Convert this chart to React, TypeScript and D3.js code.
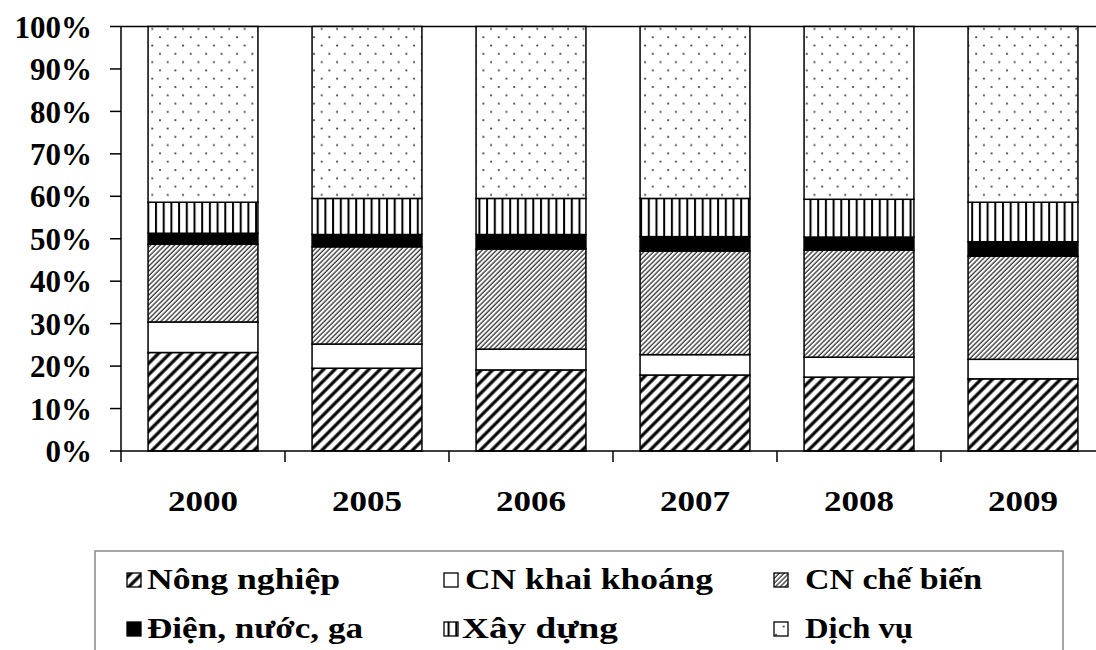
import React from "react";
import * as d3 from "d3";

const years = ["2000", "2005", "2006", "2007", "2008", "2009"];
const nongNghiep = [23.2, 19.5, 19.1, 17.9, 17.4, 17.0];
const khaiKhoang = [7.2, 5.7, 4.9, 4.8, 4.7, 4.6];
const cheBien = [18.3, 22.9, 23.6, 24.4, 25.2, 24.3];
const dienNuocGa = [2.6, 2.9, 3.4, 3.4, 3.1, 3.4];
const xayDung = [7.3, 8.5, 8.5, 9.0, 8.9, 9.3];
const dichVu = [41.4, 40.5, 40.5, 40.5, 40.7, 41.4];

const seriesNames = ["Nông nghiệp", "CN khai khoáng", "CN chế biến", "Điện, nước, ga", "Xây dựng", "Dịch vụ"];
const seriesValues = [nongNghiep, khaiKhoang, cheBien, dienNuocGa, xayDung, dichVu];
const fills = ["url(#pNong)", "#fff", "url(#pCheBien)", "#000", "url(#pXay)", "url(#pDich)"];
const yTicks = [0, 10, 20, 30, 40, 50, 60, 70, 80, 90, 100];

const FONT = "Liberation Serif, Times New Roman, serif";

export default function App() {
  const W = 1096, H = 650;
  const x = d3.scaleBand<string>().domain(years).range([121, 1105]).padding(0);
  const y = d3.scaleLinear().domain([0, 100]).range([451, 26.5]);
  const barW = x.bandwidth() * 0.67;

  const stackData = years.map((yr, i) => {
    const o: any = { year: yr };
    seriesNames.forEach((s, k) => (o[s] = seriesValues[k][i]));
    return o;
  });
  const stacked = d3.stack().keys(seriesNames)(stackData);

  const legendItems = [
    { k: 0, sx: 127, tx: 147, ty: 589, tl: 193 },
    { k: 1, sx: 444, tx: 465, ty: 589, tl: 248 },
    { k: 2, sx: 774, tx: 805, ty: 589, tl: 177 },
    { k: 3, sx: 127, tx: 147, ty: 638, tl: 216 },
    { k: 4, sx: 444, tx: 462, ty: 638, tl: 156 },
    { k: 5, sx: 774, tx: 805, ty: 638, tl: 108 },
  ];

  return (
    <svg width={W} height={H} style={{ position: "absolute", left: 0, top: 0, background: "#fff" }}>
      <defs>
        <pattern id="pNong" width={8} height={8} patternUnits="userSpaceOnUse" patternTransform="rotate(45)">
          <rect width={8} height={8} fill="#fff" />
          <line x1={2} y1={0} x2={2} y2={8} stroke="#000" strokeWidth={3.2} />
        </pattern>
        <pattern id="pCheBien" width={3.4} height={3.4} patternUnits="userSpaceOnUse" patternTransform="rotate(45)">
          <rect width={3.4} height={3.4} fill="#fff" />
          <line x1={1} y1={0} x2={1} y2={3.4} stroke="#222" strokeWidth={1.2} />
        </pattern>
        <pattern id="pXay" width={7.7} height={10} patternUnits="userSpaceOnUse">
          <rect width={7.7} height={10} fill="#fff" />
          <line x1={2} y1={0} x2={2} y2={10} stroke="#000" strokeWidth={2} />
        </pattern>
        <pattern id="pDich" width={15.4} height={16.6} patternUnits="userSpaceOnUse" x={4} y={2}>
          <rect width={15.4} height={16.6} fill="#fff" />
          <circle cx={2} cy={2} r={1.1} fill="#444" />
          <circle cx={9.7} cy={10.3} r={1.1} fill="#444" />
        </pattern>
      </defs>

      {/* plot frame */}
      <line x1={121} x2={1105} y1={y(100)} y2={y(100)} stroke="#000" strokeWidth={1.5} />
      <line x1={121} x2={121} y1={y(100)} y2={y(0)} stroke="#000" strokeWidth={1.5} />

      {/* bars */}
      {stacked.map((layer, k) => (
        <g key={k}>
          {layer.map((d, i) => (
            <rect
              key={i}
              x={(x(years[i]) as number) + (x.bandwidth() - barW) / 2}
              y={y(d[1])}
              width={barW}
              height={y(d[0]) - y(d[1])}
              fill={fills[k]}
              stroke="#000"
              strokeWidth={1.5}
            />
          ))}
        </g>
      ))}

      {/* x axis */}
      <line x1={121} x2={1105} y1={y(0)} y2={y(0)} stroke="#000" strokeWidth={1.5} />
      {years.map((yr) => (
        <line key={yr} x1={x(yr) as number} x2={x(yr) as number} y1={y(0)} y2={y(0) + 11} stroke="#000" strokeWidth={1.5} />
      ))}
      {years.map((yr) => (
        <text
          key={"l" + yr}
          x={(x(yr) as number) + x.bandwidth() / 2 - 35}
          y={511}
          textLength={70}
          lengthAdjust="spacingAndGlyphs"
          style={{ fontFamily: FONT, fontWeight: 700, fontSize: 30 }}
        >
          {yr}
        </text>
      ))}

      {/* y axis ticks */}
      {yTicks.map((t) => (
        <g key={t}>
          <line x1={110} x2={121} y1={y(t)} y2={y(t)} stroke="#000" strokeWidth={1.5} />
          <text
            x={92}
            y={y(t)}
            dy="0.36em"
            textAnchor="end"
            style={{ fontFamily: FONT, fontWeight: 700, fontSize: 31 }}
          >
            {t + "%"}
          </text>
        </g>
      ))}

      {/* legend */}
      <rect x={95} y={551} width={968} height={120} fill="none" stroke="#888" strokeWidth={1.5} />
      {legendItems.map((it) => (
        <g key={it.k}>
          <rect x={it.sx} y={it.ty - 16} width={14} height={14} fill={fills[it.k]} stroke="#000" strokeWidth={1.3} />
          <text
            x={it.tx}
            y={it.ty}
            textLength={it.tl}
            lengthAdjust="spacingAndGlyphs"
            style={{ fontFamily: FONT, fontWeight: 700, fontSize: 29 }}
          >
            {seriesNames[it.k]}
          </text>
        </g>
      ))}
    </svg>
  );
}
